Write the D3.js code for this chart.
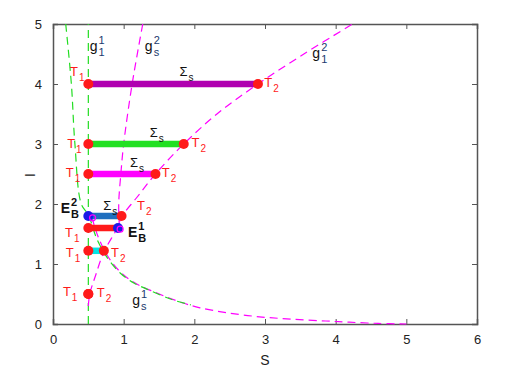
<!DOCTYPE html>
<html>
<head>
<meta charset="utf-8">
<script src="https://cdn.jsdelivr.net/npm/d3@7"></script>
<style>
  body { margin: 0; background: #fff; }
  svg { font-family: "Liberation Sans", Arial, sans-serif; }
  .axis path, .axis line { stroke: #555; }
  .axis text { fill: #222; font-size: 13px; }
</style>
</head>
<body>
<svg id="chart" width="505" height="369"></svg>
<script>
// ---- data ----
var sTicks = [0, 1, 2, 3, 4, 5, 6];
var iTicks = [0, 1, 2, 3, 4, 5];

// Sigma_s segments: level I, from T1 (sStart) to T2 (sEnd)
var segLevel = [4, 3, 2.5, 1.8, 1.6, 1.22, 0.5];
var segStart = [0.5, 0.5, 0.5, 0.5, 0.5, 0.5, 0.5];
var segEnd   = [2.9, 1.85, 1.45, 0.97, 0.92, 0.72, 0.5];
var segColor = ['#b000b0', '#22e022', '#ff00ff', '#1f6fbf', '#ff1a1a', '#00e5e5', '#ff1a1a'];
// left / right dot colours (blue = boundary equilibria)
var leftDot  = ['#ff1a1a', '#ff1a1a', '#ff1a1a', '#1a1ae6', '#ff1a1a', '#ff1a1a', '#ff1a1a'];
var rightDot = ['#ff1a1a', '#ff1a1a', '#ff1a1a', '#ff1a1a', '#1a1ae6', '#ff1a1a', '#ff1a1a'];

// g_1^1 : vertical nullcline
var g11S = [0.5, 0.5];
var g11I = [0, 5];
// g_s^1 (green branch)
var gs1gS = [0.18, 0.26, 0.31, 0.40, 0.50, 0.62, 0.76, 0.95, 1.15, 1.37, 1.70, 1.95];
var gs1gI = [5.0, 4.0, 3.0, 2.0, 1.82, 1.42, 1.12, 0.85, 0.68, 0.56, 0.40, 0.32];
// g_s^1 (magenta branch)
var gs1mS = [0.55, 0.64, 0.78, 0.95, 1.15, 1.42, 1.84, 2.08, 2.45, 2.92, 3.39, 3.86, 4.19, 4.6, 5.0];
var gs1mI = [1.78, 1.45, 1.12, 0.87, 0.69, 0.54, 0.35, 0.27, 0.19, 0.12, 0.08, 0.05, 0.03, 0.01, 0.0];
// g_s^2
var gs2S = [1.27, 1.12, 1.0, 0.96, 0.93, 0.94];
var gs2I = [5.0, 4.0, 3.0, 2.5, 2.0, 1.6];
// g_1^2
var g12S = [0.5, 0.52, 0.6, 0.72, 0.91, 0.98, 1.18, 1.45, 1.85, 2.32, 2.9, 3.55, 4.24];
var g12I = [0.3, 0.5, 0.8, 1.2, 1.6, 1.8, 2.1, 2.5, 3.0, 3.5, 4.0, 4.5, 5.0];
// small open markers
var markS = [0.56, 0.95];
var markI = [1.77, 1.58];

// text annotations: anchor (S, I), main text, sub
var labS    = [0.24, 2.99, 0.20, 1.96, 0.18, 1.54, 1.19, 0.17, 0.18, 0.82, 0.14, 0.62, 1.79, 1.37, 1.09, 0.71];
var labI    = [4.13, 3.95, 2.93, 2.95, 2.45, 2.45, 1.90, 1.45, 1.12, 1.12, 0.47, 0.45, 4.13, 3.12, 2.62, 1.90];
var labMain = ['T', 'T', 'T', 'T', 'T', 'T', 'T', 'T', 'T', 'T', 'T', 'T', '\u03A3', '\u03A3', '\u03A3', '\u03A3'];
var labSub  = ['1', '2', '1', '2', '1', '2', '2', '1', '1', '2', '1', '2', 's', 's', 's', 's'];

var gLabS   = [0.52, 1.30, 3.67, 1.12];
var gLabI   = [4.55, 4.55, 4.43, 0.32];
var gLabSub = ['1', 's', '1', 's'];
var gLabSup = ['1', '2', '2', '1'];

var eLabS   = [0.11, 1.06];
var eLabI   = [1.85, 1.45];
var eLabSup = ['2', '1'];

// ---- drawing ----
var svg = d3.select('#chart');
var x = d3.scaleLinear().domain([0, 6]).range([53, 477]);
var y = d3.scaleLinear().domain([0, 5]).range([324, 24]);

// axes with inward ticks on all four sides
svg.append('g').attr('class', 'axis').attr('transform', 'translate(0,324)')
  .call(d3.axisBottom(x).tickValues(sTicks).tickSize(-5).tickPadding(11).tickFormat(d3.format('d')));
svg.append('g').attr('class', 'axis').attr('transform', 'translate(0,24)')
  .call(d3.axisTop(x).tickValues(sTicks).tickSize(-5).tickFormat(''));
svg.append('g').attr('class', 'axis').attr('transform', 'translate(53,0)')
  .call(d3.axisLeft(y).tickValues(iTicks).tickSize(-5).tickPadding(11).tickFormat(d3.format('d')));
svg.append('g').attr('class', 'axis').attr('transform', 'translate(477,0)')
  .call(d3.axisRight(y).tickValues(iTicks).tickSize(-5).tickFormat(''));
svg.selectAll('.axis path').attr('stroke-width', 1.5);

svg.append('text').attr('x', 265).attr('y', 365).attr('text-anchor', 'middle')
  .attr('font-size', 14).attr('fill', '#222').text('S');
svg.append('text').attr('transform', 'translate(35,175) rotate(-90)').attr('text-anchor', 'middle')
  .attr('font-size', 14).attr('fill', '#222').text('I');

var line = d3.line()
  .x(function (d) { return x(d[0]); })
  .y(function (d) { return y(d[1]); })
  .curve(d3.curveCatmullRom);

function zipPts(sArr, iArr) {
  return sArr.map(function (s, k) { return [s, iArr[k]]; });
}

function dashed(sArr, iArr, color) {
  svg.append('path')
    .attr('d', line(zipPts(sArr, iArr)))
    .attr('fill', 'none')
    .attr('stroke', color)
    .attr('stroke-width', 1.2)
    .attr('stroke-dasharray', '8,5');
}

dashed(gs1mS, gs1mI, '#ff00ff');
dashed(gs1gS, gs1gI, '#22dd22');
dashed(g11S, g11I, '#22dd22');
dashed(gs2S, gs2I, '#ff00ff');
dashed(g12S, g12I, '#ff00ff');

// Sigma_s segments and their end points
segLevel.forEach(function (lv, k) {
  svg.append('line')
    .attr('x1', x(segStart[k])).attr('x2', x(segEnd[k]))
    .attr('y1', y(lv)).attr('y2', y(lv))
    .attr('stroke', segColor[k]).attr('stroke-width', 6.5);
});
segLevel.forEach(function (lv, k) {
  svg.append('circle').attr('cx', x(segStart[k])).attr('cy', y(lv)).attr('r', 5).attr('fill', leftDot[k]);
  svg.append('circle').attr('cx', x(segEnd[k])).attr('cy', y(lv)).attr('r', 5).attr('fill', rightDot[k]);
});

markS.forEach(function (s, k) {
  svg.append('circle').attr('cx', x(s)).attr('cy', y(markI[k])).attr('r', 3)
    .attr('fill', 'none').attr('stroke', '#ff00ff').attr('stroke-width', 1.2);
});

function label(s, i, main, sub, sup, color, subColor, size, bold) {
  var px = x(s), py = y(i);
  var t = svg.append('text').attr('x', px).attr('y', py)
    .attr('font-size', size).attr('fill', color).text(main);
  if (bold) t.attr('font-weight', 'bold');
  var w = t.node().getComputedTextLength() + 1;
  if (sub) {
    svg.append('text').attr('x', px + w).attr('y', py + 5)
      .attr('font-size', size - 3).attr('fill', subColor).attr('font-weight', bold ? 'bold' : null).text(sub);
  }
  if (sup) {
    svg.append('text').attr('x', px + w).attr('y', py - 7)
      .attr('font-size', size - 3).attr('fill', subColor).attr('font-weight', bold ? 'bold' : null).text(sup);
  }
}

labMain.forEach(function (m, k) {
  var c = m === 'T' ? '#ff1a1a' : '#111';
  label(labS[k], labI[k], m, labSub[k], null, c, c, 13, false);
});
gLabS.forEach(function (s, k) {
  label(s, gLabI[k], 'g', gLabSub[k], gLabSup[k], '#111', '#1b3a6e', 14, false);
});
eLabS.forEach(function (s, k) {
  label(s, eLabI[k], 'E', 'B', eLabSup[k], '#111', '#111', 14, true);
});
</script>
</body>
</html>
